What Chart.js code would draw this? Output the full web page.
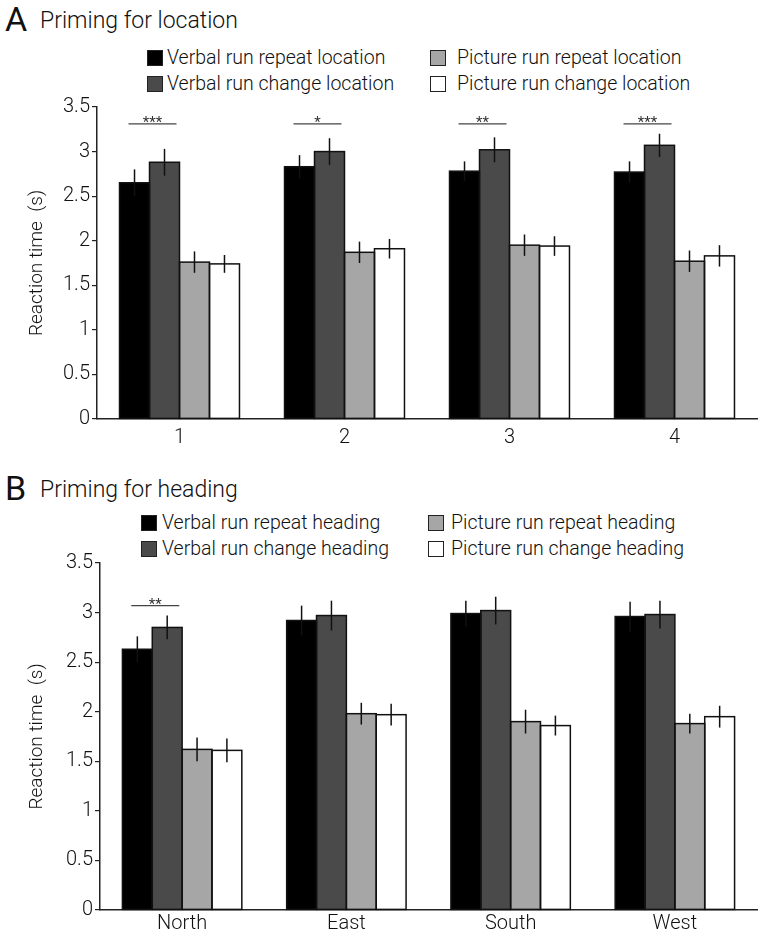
<!DOCTYPE html>
<html>
<head>
<meta charset="utf-8">
<script src="https://cdn.jsdelivr.net/npm/chart.js@4.4.0/dist/chart.umd.min.js"></script>
<style>
  body { margin: 0; background: #fff; }
  #page { position: relative; width: 758px; height: 933px; overflow: hidden;
          font-family: Roboto, 'Liberation Sans', sans-serif; font-weight: 300; color: #111; }
  .letter { position: absolute; left: 5px; font-size: 34px; font-weight: 400; line-height: 1; transform: translateY(-50%); }
  .ptitle { position: absolute; left: 40px; font-size: 23px; line-height: 1; white-space: nowrap; transform: translateY(-50%); }
  .lbox { position: absolute; width: 14px; height: 14px; border: 1px solid #222; box-sizing: content-box; }
  .ltext { position: absolute; font-size: 19.5px; line-height: 1; white-space: nowrap; transform: translateY(-50%); }
  canvas { position: absolute; left: 0; }
</style>
</head>
<body>
<div id="page">
  <div class="letter" style="top:19px">A</div>
  <div class="ptitle" style="top:20px">Priming for location</div>
  <div id="legA"></div>
  <canvas id="chartA" width="758" height="360" style="top:92px"></canvas>

  <div class="letter" style="top:488px">B</div>
  <div class="ptitle" style="top:489px">Priming for heading</div>
  <div id="legB"></div>
  <canvas id="chartB" width="758" height="388" style="top:545px"></canvas>
</div>
<script>
// Panel A: priming for location
const categoriesA = ['1', '2', '3', '4'];
const namesA = ['Verbal run repeat location', 'Verbal run change location',
                'Picture run repeat location', 'Picture run change location'];
const verbalRepeatA = [2.65, 2.83, 2.78, 2.77];
const verbalChangeA = [2.88, 3.00, 3.02, 3.07];
const pictureRepeatA = [1.76, 1.87, 1.95, 1.77];
const pictureChangeA = [1.74, 1.91, 1.94, 1.83];
const verbalRepeatErrA = [0.15, 0.13, 0.11, 0.12];
const verbalChangeErrA = [0.15, 0.15, 0.14, 0.13];
const pictureRepeatErrA = [0.12, 0.12, 0.12, 0.12];
const pictureChangeErrA = [0.10, 0.11, 0.11, 0.12];
const sigA = ['***', '*', '**', '***'];

// Panel B: priming for heading
const categoriesB = ['North', 'East', 'South', 'West'];
const namesB = ['Verbal run repeat heading', 'Verbal run change heading',
                'Picture run repeat heading', 'Picture run change heading'];
const verbalRepeatB = [2.63, 2.92, 2.99, 2.96];
const verbalChangeB = [2.85, 2.97, 3.02, 2.98];
const pictureRepeatB = [1.62, 1.98, 1.90, 1.88];
const pictureChangeB = [1.61, 1.97, 1.86, 1.95];
const verbalRepeatErrB = [0.13, 0.15, 0.13, 0.15];
const verbalChangeErrB = [0.12, 0.15, 0.14, 0.14];
const pictureRepeatErrB = [0.12, 0.11, 0.12, 0.10];
const pictureChangeErrB = [0.12, 0.11, 0.10, 0.11];
const sigB = ['**', '', '', ''];

const yTicks = [0, 0.5, 1, 1.5, 2, 2.5, 3, 3.5];

const barColors = ['#000000', '#4a4a4a', '#a6a6a6', '#ffffff'];
const FONT = "Roboto, 'Liberation Sans', sans-serif";

// html legend, two columns like the figure
function buildLegend(el, names, rows, cols) {
    const order = [[0, 0], [1, 0], [0, 1], [1, 1]]; // [row, col] per series
    names.forEach((name, i) => {
        const [r, c] = order[i];
        const box = document.createElement('div');
        box.className = 'lbox';
        box.style.left = cols[c][0] + 'px';
        box.style.top = (rows[r] - 8) + 'px';
        box.style.background = barColors[i];
        const txt = document.createElement('div');
        txt.className = 'ltext';
        txt.style.left = cols[c][1] + 'px';
        txt.style.top = rows[r] + 'px';
        txt.textContent = name;
        el.appendChild(box);
        el.appendChild(txt);
    });
}

buildLegend(document.getElementById('legA'), namesA, [58, 84], [[147, 167], [430, 457]]);
buildLegend(document.getElementById('legB'), namesB, [523, 549], [[141, 162], [428, 451]]);

// outline every bar with a stroke so neighbours share one edge, then error bars
const barOutlines = {
    id: 'barOutlines',
    afterDatasetsDraw(chart) {
        const { ctx } = chart;
        const y = chart.scales.y;
        ctx.save();
        ctx.strokeStyle = '#111';
        ctx.lineWidth = 1.5;
        chart.data.datasets.forEach((ds, di) => {
            chart.getDatasetMeta(di).data.forEach((bar) => {
                ctx.strokeRect(bar.x - bar.width / 2, bar.y, bar.width, bar.base - bar.y);
            });
        });
        chart.data.datasets.forEach((ds, di) => {
            chart.getDatasetMeta(di).data.forEach((bar, i) => {
                const v = ds.data[i], e = ds.errors[i];
                ctx.beginPath();
                ctx.moveTo(bar.x, y.getPixelForValue(v - e));
                ctx.lineTo(bar.x, y.getPixelForValue(v + e));
                ctx.stroke();
            });
        });
        ctx.restore();
    }
};

const sigMarks = {
    id: 'sigMarks',
    afterDatasetsDraw(chart, args, opts) {
        const { ctx } = chart;
        const y = chart.scales.y;
        const m0 = chart.getDatasetMeta(0).data, m1 = chart.getDatasetMeta(1).data;
        const yy = y.getPixelForValue(opts.level);
        ctx.save();
        ctx.strokeStyle = '#444';
        ctx.fillStyle = '#333';
        ctx.lineWidth = 1.2;
        ctx.font = '15px ' + FONT;
        ctx.textAlign = 'center';
        ctx.textBaseline = 'alphabetic';
        opts.labels.forEach((s, i) => {
            if (!s) return;
            const mid = (m0[i].x + m1[i].x) / 2 + 3;
            ctx.beginPath();
            ctx.moveTo(mid - 24, yy);
            ctx.lineTo(mid + 24, yy);
            ctx.stroke();
            ctx.fillText(s, mid, yy + 3);
        });
        ctx.restore();
    }
};

function makeChart(id, labels, names, values, errors, sig, sigLevel, lay) {
    return new Chart(document.getElementById(id), {
        type: 'bar',
        data: {
            labels,
            datasets: names.map((n, i) => ({
                label: n,
                data: values[i],
                errors: errors[i],
                backgroundColor: barColors[i],
                borderWidth: 0,
                categoryPercentage: 0.727,
                barPercentage: 1.0
            }))
        },
        options: {
            responsive: false,
            animation: false,
            events: [],
            layout: { padding: { top: lay.top, right: 1, left: 0, bottom: 0 } },
            plugins: {
                legend: { display: false },
                tooltip: { enabled: false },
                sigMarks: { labels: sig, level: sigLevel }
            },
            scales: {
                x: {
                    afterFit: s => { s.height = lay.xh; },
                    grid: { display: false, drawTicks: false },
                    border: { display: true, color: '#222', width: 1.5 },
                    ticks: { color: '#111', padding: lay.xpad, font: { family: FONT, size: 20, weight: 300 } }
                },
                y: {
                    min: 0, max: 3.5,
                    afterFit: s => { s.width = lay.yw; },
                    afterBuildTicks: s => { s.ticks = yTicks.map(v => ({ value: v })); },
                    grid: { drawOnChartArea: false, drawTicks: true, tickLength: 5, color: '#222', lineWidth: 1.2 },
                    border: { display: true, color: '#222', width: 1.5 },
                    ticks: {
                        color: '#111', padding: 2,
                        font: { family: FONT, size: 20, weight: 300 },
                        callback: v => String(v)
                    },
                    title: {
                        display: true, text: 'Reaction time  (s)', color: '#111',
                        font: { family: FONT, size: 19, weight: 300 },
                        padding: { top: 26, bottom: 0 }
                    }
                }
            }
        },
        plugins: [barOutlines, sigMarks]
    });
}

makeChart('chartA', categoriesA, namesA,
    [verbalRepeatA, verbalChangeA, pictureRepeatA, pictureChangeA],
    [verbalRepeatErrA, verbalChangeErrA, pictureRepeatErrA, pictureChangeErrA],
    sigA, 3.31, { top: 15, xh: 33, yw: 97, xpad: 7 });

makeChart('chartB', categoriesB, namesB,
    [verbalRepeatB, verbalChangeB, pictureRepeatB, pictureChangeB],
    [verbalRepeatErrB, verbalChangeErrB, pictureRepeatErrB, pictureChangeErrB],
    sigB, 3.07, { top: 18, xh: 23, yw: 100, xpad: 2 });
</script>
</body>
</html>
